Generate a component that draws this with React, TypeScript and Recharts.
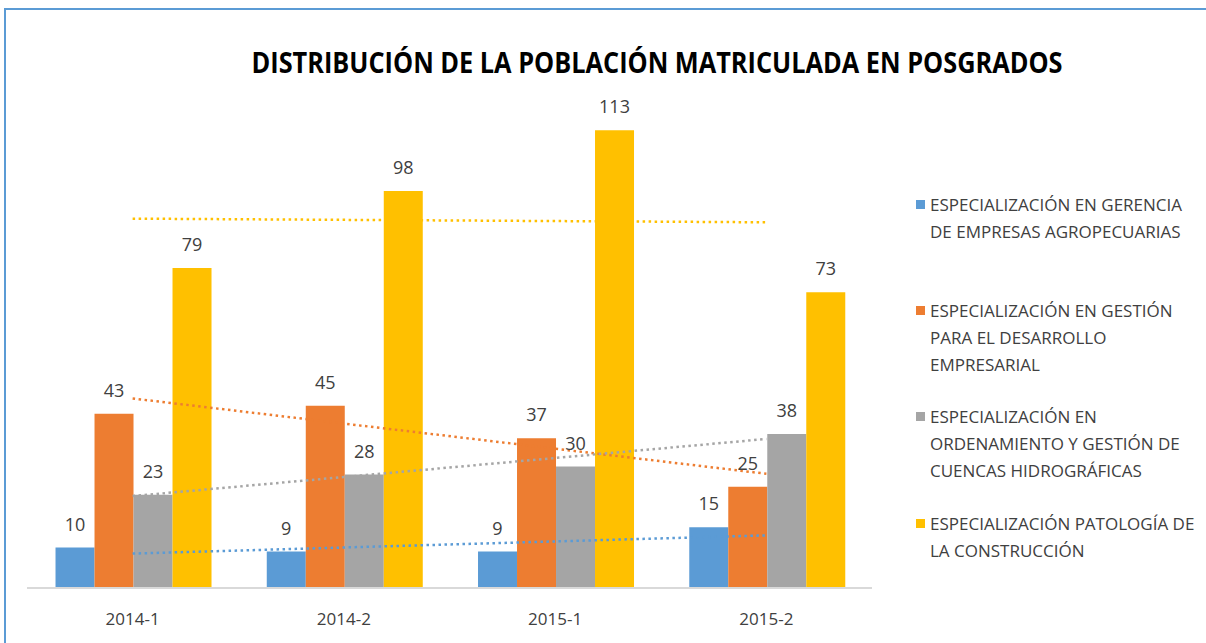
import React from "react";
import { ComposedChart, Bar, Line, XAxis, YAxis, LabelList } from "recharts";

const categories = ["2014-1", "2014-2", "2015-1", "2015-2"];

// enrolled students per programme
const gerencia = [10, 9, 9, 15];
const gestion = [43, 45, 37, 25];
const cuencas = [23, 28, 30, 38];
const patologia = [79, 98, 113, 73];

// linear trend lines (value at each period)
const gerenciaTrend = [8.5, 10, 11.5, 13];
const gestionTrend = [46.8, 40.6, 34.4, 28.2];
const cuencasTrend = [22.7, 27.4, 32.1, 36.8];
const patologiaTrend = [91.2, 90.9, 90.6, 90.3];

const seriesNames = [
  ["ESPECIALIZACIÓN EN GERENCIA", "DE EMPRESAS AGROPECUARIAS"],
  ["ESPECIALIZACIÓN EN GESTIÓN", "PARA EL DESARROLLO", "EMPRESARIAL"],
  ["ESPECIALIZACIÓN EN", "ORDENAMIENTO Y GESTIÓN DE", "CUENCAS HIDROGRÁFICAS"],
  ["ESPECIALIZACIÓN PATOLOGÍA DE", "LA CONSTRUCCIÓN"],
];

const title = "DISTRIBUCIÓN DE LA POBLACIÓN MATRICULADA EN POSGRADOS";

const COLORS = ["#5B9BD5", "#ED7D31", "#A5A5A5", "#FFC000"];
const TEXT = "#404040";
const FONT = "'Open Sans', 'Noto Sans', sans-serif";

const data = categories.map((c, i) => ({
  period: c,
  gerencia: gerencia[i],
  gestion: gestion[i],
  cuencas: cuencas[i],
  patologia: patologia[i],
  gerenciaTrend: gerenciaTrend[i],
  gestionTrend: gestionTrend[i],
  cuencasTrend: cuencasTrend[i],
  patologiaTrend: patologiaTrend[i],
}));

const barKeys = ["gerencia", "gestion", "cuencas", "patologia"];
const legendGaps = [0, 52, 25, 26.5];

export default function App() {
  return (
    <div style={{ position: "relative", width: 1206, height: 643, background: "#fff", fontFamily: FONT, overflow: "hidden" }}>
      <style>{`body{margin:0}`}</style>
      <div
        style={{
          position: "absolute", left: 4, top: 8, right: 0, bottom: 0,
          borderTop: "2px solid #5B9BD5", borderLeft: "2px solid #5B9BD5",
        }}
      />
      <svg width={1206} height={100} style={{ position: "absolute", left: 0, top: 0 }}>
        <text
          x={657} y={73} textAnchor="middle" textLength={811} lengthAdjust="spacingAndGlyphs"
          style={{ fontFamily: FONT, fontWeight: 700, fontSize: 29, fill: "#000" }}
        >
          {title}
        </text>
      </svg>
      <div style={{ position: "absolute", left: 0, top: 0 }}>
        <ComposedChart
          width={1206}
          height={643}
          data={data}
          margin={{ top: 102, right: 334, bottom: 0, left: 27 }}
          barCategoryGap="13.5%"
          barGap={0}
        >
          <XAxis
            dataKey="period"
            height={55}
            tickLine={false}
            axisLine={{ stroke: "#D9D9D9", strokeWidth: 2 }}
            tick={{ fontSize: 17, fill: TEXT, fontFamily: FONT }}
            tickMargin={19}
          />
          <YAxis hide domain={[0, 120]} />
          {barKeys.map((k, i) => (
            <Bar key={k} dataKey={k} fill={COLORS[i]} isAnimationActive={false}>
              <LabelList dataKey={k} position="top" offset={17} style={{ fontSize: 18, fill: TEXT, fontFamily: FONT }} />
            </Bar>
          ))}
          {barKeys.map((k, i) => (
            <Line
              key={k + "Trend"}
              dataKey={k + "Trend"}
              stroke={COLORS[i]}
              strokeWidth={2.5}
              strokeDasharray="2.5 3.5"
              dot={false}
              activeDot={false}
              legendType="none"
              isAnimationActive={false}
            />
          ))}
        </ComposedChart>
      </div>
      <div style={{ position: "absolute", left: 916, top: 190.5, width: 285, color: TEXT, fontSize: 17, lineHeight: "27px" }}>
        {seriesNames.map((lines, i) => (
          <div key={i} style={{ position: "relative", paddingLeft: 14, marginTop: legendGaps[i] }}>
            <span style={{ position: "absolute", left: 0, top: 9, width: 9, height: 9, background: COLORS[i] }} />
            {lines.map((l, j) => (
              <div key={j} style={{ whiteSpace: "nowrap" }}>{l}</div>
            ))}
          </div>
        ))}
      </div>
    </div>
  );
}
